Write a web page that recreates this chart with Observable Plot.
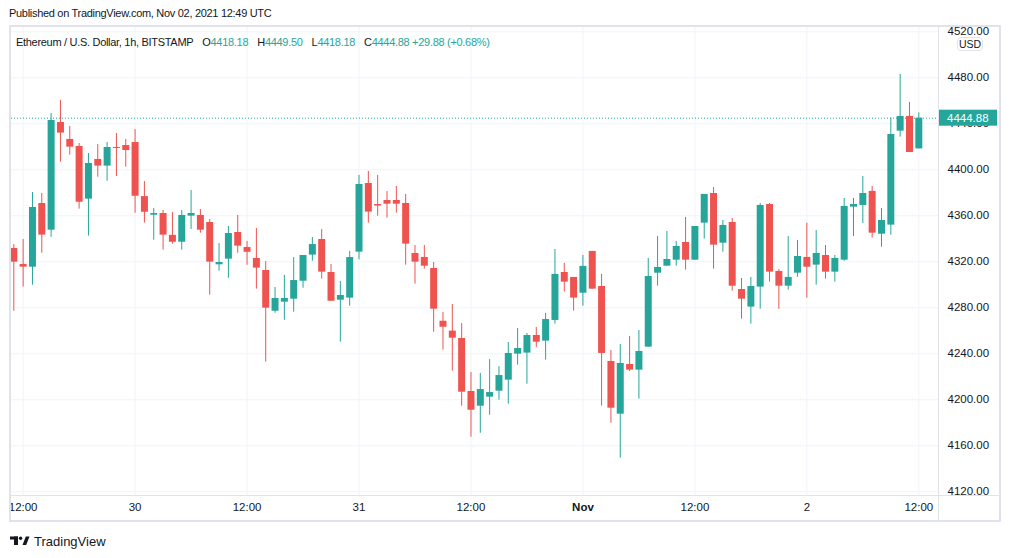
<!DOCTYPE html>
<html>
<head>
<meta charset="utf-8">
<script src="https://cdn.jsdelivr.net/npm/d3@7"></script>
<script src="https://cdn.jsdelivr.net/npm/@observablehq/plot@0.6"></script>
<style>
  html, body { margin: 0; padding: 0; background: #fff; }
  body { width: 1012px; height: 558px; overflow: hidden; position: relative;
         font-family: "Liberation Sans", Arial, sans-serif; color: #131722; }
  .abs { position: absolute; }
  #published { left: 9px; top: 7px; font-size: 11px; letter-spacing: -0.3px; white-space: nowrap; }
  #frame { left: 9px; top: 25px; width: 988px; height: 493px; border: 2px solid #e0e3eb; }
  #chart { left: 11px; top: 27px; width: 988px; height: 493px; }
  #vsep { left: 938px; top: 27px; width: 1px; height: 493px; background: #e0e3eb; }
  #hsep { left: 11px; top: 495px; width: 988px; height: 1px; background: #e0e3eb; }
  #cover { left: 939px; top: 496px; width: 60px; height: 24px; background: #fff; }
  #legend { left: 16px; top: 36px; font-size: 11px; letter-spacing: -0.3px; white-space: nowrap; }
  #legend .v { color: #26a69a; }
  #legend .k { margin-left: 9px; }
  #usd { left: 957px; top: 37px; width: 24px; height: 12px; border: 1px solid #e0e3eb; border-radius: 4px;
         background: #fff; font-size: 10.5px; line-height: 12px; text-align: center; }
  #brand { left: 10px; top: 533px; height: 16px; display: flex; align-items: center; }
  #brand span { font-size: 13px; margin-left: 4px; color: #131722; }
</style>
</head>
<body>
<div id="published" class="abs">Published on TradingView.com, Nov 02, 2021 12:49 UTC</div>
<div id="frame" class="abs"></div>
<div id="chart" class="abs"></div>
<div id="vsep" class="abs"></div>
<div id="hsep" class="abs"></div>
<div id="cover" class="abs"></div>
<div id="legend" class="abs"></div>
<div id="usd" class="abs">USD</div>
<div id="brand" class="abs">
  <svg width="20" height="10" viewBox="0 0 20 10">
    <rect x="0" y="0.5" width="8" height="3" fill="#131722"/>
    <rect x="4" y="0.5" width="4" height="8.5" fill="#131722"/>
    <circle cx="10.6" cy="2.2" r="1.7" fill="#131722"/>
    <polygon points="12.5,9 15.8,0.5 19.5,0.5 16.2,9" fill="#131722"/>
  </svg>
  <span>TradingView</span>
</div>
<script>
// ETH/USD, 1h candles, Bitstamp — first candle 2021-10-29 11:00 UTC
const firstCandleUTC = "2021-10-29T11:00:00Z";
const opens = [
  4331.6, 4317.7, 4315.3, 4370.7, 4347.5, 4441.1, 4426.4, 4420.3, 4374.5, 4409.0,
  4403.2, 4419.4, 4421.1, 4423.7, 4376.7, 4360.5, 4362.0, 4343.0, 4337.0, 4359.7,
  4360.3, 4354.2, 4317.4, 4322.3, 4345.5, 4332.4, 4322.9, 4312.4, 4277.0, 4284.9,
  4287.5, 4303.1, 4325.8, 4339.4, 4310.7, 4286.6, 4288.4, 4328.4, 4388.1, 4369.8,
  4373.3, 4373.3, 4370.7, 4327.2, 4323.8, 4314.2, 4268.3, 4259.7, 4253.3, 4207.2,
  4194.4, 4202.3, 4207.5, 4217.1, 4239.7, 4240.6, 4255.9, 4251.0, 4269.0, 4310.7,
  4306.4, 4292.7, 4329.0, 4298.5, 4233.3, 4187.5, 4230.7, 4225.8, 4245.8, 4310.1,
  4316.2, 4321.4, 4336.8, 4321.4, 4353.6, 4379.4, 4336.2, 4354.2, 4295.9, 4280.6,
  4298.0, 4369.8, 4311.6, 4298.8, 4310.1, 4323.8, 4317.1, 4325.5, 4311.0, 4321.4,
  4367.5, 4369.0, 4381.2, 4344.0, 4351.9, 4433.6, 4446.4, 4418.18
];
const highs = [
  4335.0, 4339.4, 4380.3, 4379.4, 4449.0, 4460.3, 4437.7, 4422.9, 4414.2, 4422.0,
  4423.7, 4431.6, 4426.4, 4435.0, 4389.8, 4366.3, 4364.6, 4362.9, 4364.6, 4382.0,
  4365.5, 4356.8, 4335.9, 4350.7, 4360.3, 4337.7, 4349.0, 4320.3, 4297.7, 4308.1,
  4323.7, 4325.5, 4341.1, 4348.1, 4317.6, 4302.9, 4329.0, 4395.1, 4398.6, 4395.1,
  4381.2, 4385.5, 4378.5, 4334.2, 4334.2, 4319.4, 4275.9, 4282.9, 4266.3, 4223.7,
  4222.9, 4235.0, 4228.9, 4249.8, 4262.0, 4257.7, 4262.9, 4275.1, 4330.7, 4318.6,
  4306.4, 4325.5, 4329.0, 4309.0, 4242.9, 4248.1, 4255.0, 4260.3, 4322.9, 4342.0,
  4346.4, 4337.7, 4358.6, 4350.7, 4378.6, 4384.6, 4355.9, 4357.7, 4305.5, 4306.4,
  4370.7, 4370.7, 4313.3, 4342.0, 4338.5, 4353.6, 4347.2, 4334.2, 4325.5, 4375.1,
  4375.1, 4394.2, 4385.5, 4366.4, 4445.2, 4482.9, 4458.6, 4449.50
];
const lows = [
  4277.0, 4298.0, 4299.7, 4327.5, 4341.4, 4406.7, 4412.7, 4365.8, 4342.3, 4393.6,
  4390.1, 4394.2, 4402.3, 4362.3, 4353.6, 4338.8, 4330.1, 4335.3, 4330.1, 4348.1,
  4344.9, 4291.0, 4311.8, 4305.7, 4327.5, 4317.0, 4296.2, 4232.7, 4275.3, 4269.2,
  4276.2, 4297.0, 4320.5, 4304.9, 4285.7, 4250.1, 4281.4, 4321.7, 4353.6, 4359.7,
  4358.0, 4362.3, 4317.1, 4300.6, 4313.6, 4258.8, 4243.2, 4224.9, 4194.4, 4167.5,
  4170.9, 4186.6, 4199.7, 4196.2, 4230.1, 4213.6, 4245.5, 4234.5, 4265.8, 4293.6,
  4277.1, 4281.4, 4296.2, 4194.5, 4179.7, 4149.2, 4224.6, 4200.6, 4245.8, 4298.8,
  4316.2, 4316.2, 4312.7, 4321.4, 4339.7, 4313.6, 4328.4, 4294.5, 4270.1, 4265.8,
  4278.8, 4302.3, 4278.8, 4295.3, 4306.6, 4288.4, 4299.7, 4304.9, 4302.3, 4320.5,
  4342.0, 4353.3, 4340.6, 4332.7, 4343.2, 4428.4, 4415.0, 4418.18
];
const closes = [
  4319.7, 4315.3, 4367.2, 4343.2, 4442.9, 4431.9, 4419.7, 4371.8, 4405.5, 4403.2,
  4419.4, 4418.5, 4416.8, 4377.0, 4363.1, 4362.0, 4343.2, 4337.0, 4360.3, 4362.0,
  4347.5, 4319.7, 4319.4, 4344.6, 4333.6, 4328.3, 4314.5, 4279.7, 4288.1, 4288.1,
  4303.7, 4325.5, 4335.0, 4311.0, 4285.7, 4290.7, 4323.7, 4387.2, 4363.2, 4368.4,
  4370.1, 4370.1, 4335.4, 4319.7, 4316.2, 4278.8, 4263.1, 4253.6, 4206.6, 4190.9,
  4208.9, 4206.3, 4221.1, 4240.3, 4244.6, 4255.9, 4250.1, 4269.8, 4309.0, 4302.3,
  4288.4, 4316.0, 4296.2, 4240.3, 4192.7, 4231.6, 4225.8, 4242.0, 4307.2, 4315.1,
  4322.0, 4333.3, 4321.4, 4350.7, 4378.6, 4334.5, 4351.6, 4298.8, 4287.5, 4298.5,
  4369.0, 4311.0, 4298.8, 4306.4, 4324.6, 4315.3, 4327.2, 4311.0, 4322.9, 4368.1,
  4369.8, 4379.4, 4344.9, 4355.9, 4430.7, 4446.4, 4415.0, 4444.88
];
const priceTicks = [4120, 4160, 4200, 4240, 4280, 4320, 4360, 4400, 4440, 4480, 4520];
const timeTicks = [
  "2021-10-29T12:00:00Z", "2021-10-30T00:00:00Z", "2021-10-30T12:00:00Z",
  "2021-10-31T00:00:00Z", "2021-10-31T12:00:00Z", "2021-11-01T00:00:00Z",
  "2021-11-01T12:00:00Z", "2021-11-02T00:00:00Z", "2021-11-02T12:00:00Z"
];
const timeTickLabels = ["12:00", "30", "12:00", "31", "12:00", "Nov", "12:00", "2", "12:00"];
const boldTickLabels = ["Nov"];

const UP = "#26a69a", DOWN = "#ef5350", GRID = "#f0f3fa", INK = "#131722";
const HOUR = 3600 * 1000;
const t0 = new Date(firstCandleUTC).getTime();

const candles = opens.map((o, i) => {
  const c = closes[i];
  let lo = Math.min(o, c), hi = Math.max(o, c);
  if (hi - lo < 0.9) { const m = (hi + lo) / 2; lo = m - 0.45; hi = m + 0.45; }
  return { t: new Date(t0 + i * HOUR), open: o, high: highs[i], low: lows[i], close: c,
           bodyLo: lo, bodyHi: hi, color: c >= o ? UP : DOWN };
});
const ticks = timeTicks.map((s, i) => ({ t: new Date(s), label: timeTickLabels[i] }));
const last = candles[candles.length - 1];
const prev = candles[candles.length - 2];

const W = 988, H = 493, MR = 61, MB = 25;
const plot = Plot.plot({
  width: W, height: H,
  marginLeft: 0, marginRight: MR, marginTop: 0, marginBottom: MB,
  style: { background: "transparent", overflow: "hidden", fontSize: "11.5px",
           fontFamily: "'Liberation Sans', Arial, sans-serif", color: INK },
  x: { type: "utc", domain: [new Date(t0 - 0.2465 * HOUR), new Date(t0 + 99.11 * HOUR)], axis: null },
  y: { domain: [4116.78, 4523.74], axis: null },
  marks: [
    Plot.ruleY(priceTicks, { stroke: GRID, strokeOpacity: 1 }),
    Plot.ruleX(ticks, { x: "t", stroke: GRID, strokeOpacity: 1 }),
    Plot.axisY(priceTicks, { anchor: "right", tickSize: 0, tickPadding: 9,
                             tickFormat: d => d.toFixed(2), fill: INK }),
    Plot.text(ticks.filter(d => !boldTickLabels.includes(d.label)),
              { x: "t", text: "label", frameAnchor: "bottom", lineAnchor: "top", dy: 7, fill: INK }),
    Plot.text(ticks.filter(d => boldTickLabels.includes(d.label)),
              { x: "t", text: "label", frameAnchor: "bottom", lineAnchor: "top", dy: 7, fill: INK, fontWeight: "bold" }),
    Plot.ruleY([last.close], { stroke: UP, strokeDasharray: "1,2" }),
    Plot.ruleX(candles, { x: "t", y1: "low", y2: "high", stroke: "color", strokeWidth: 1 }),
    Plot.ruleX(candles, { x: "t", y1: "bodyLo", y2: "bodyHi", stroke: "color", strokeWidth: 7 })
  ]
});
document.getElementById("chart").appendChild(plot);

// current price badge on the price axis
const yLast = plot.scale("y").apply(last.close);
const g = d3.select(plot).append("g");
g.append("rect").attr("x", W - MR).attr("y", yLast - 8).attr("width", 59).attr("height", 16).attr("fill", UP);
g.append("text").attr("x", W - MR + 9).attr("y", yLast).attr("dy", "0.35em")
  .attr("text-anchor", "start").attr("fill", "#fff").attr("font-size", "11.5px")
  .text(last.close.toFixed(2));

// OHLC legend
const chg = last.close - prev.close;
const pct = chg / prev.close * 100;
const sgn = v => (v >= 0 ? "+" : "") + v.toFixed(2);
document.getElementById("legend").innerHTML =
  `Ethereum / U.S. Dollar, 1h, BITSTAMP` +
  `<span class="k">O</span><span class="v">${last.open.toFixed(2)}</span>` +
  `<span class="k">H</span><span class="v">${last.high.toFixed(2)}</span>` +
  `<span class="k">L</span><span class="v">${last.low.toFixed(2)}</span>` +
  `<span class="k">C</span><span class="v">${last.close.toFixed(2)} ${sgn(chg)} (${sgn(pct)}%)</span>`;
</script>
</body>
</html>
